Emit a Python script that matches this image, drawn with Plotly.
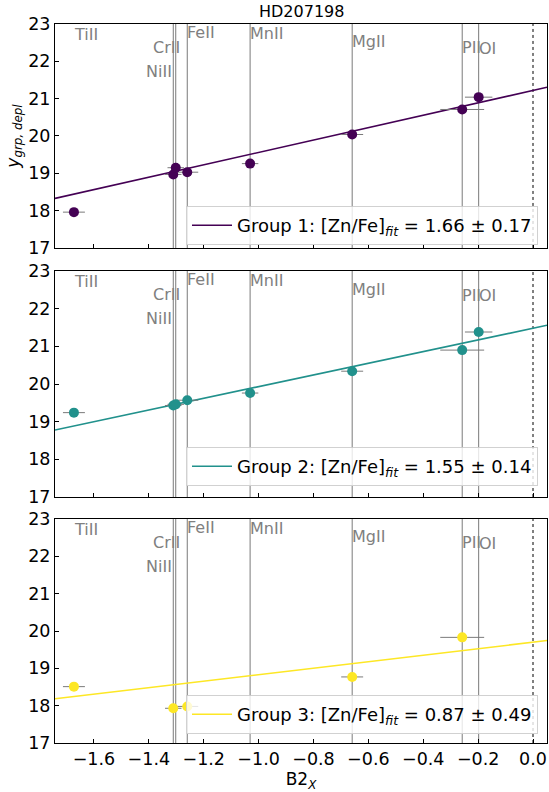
import plotly.graph_objects as go
from plotly.subplots import make_subplots

# ---- data ----
ions = ["TiII", "CrII", "NiII", "FeII", "MnII", "MgII", "PII", "OI"]
b2x = [-1.673, -1.311, -1.302, -1.260, -1.031, -0.659, -0.258, -0.198]

group1_y = [17.96, 18.97, 19.15, 19.03, 19.26, 20.04, 20.71, 21.04]
group1_xerr = [0.04, 0.03, 0.03, 0.04, 0.03, 0.04, 0.08, 0.05]

group2_y = [19.24, 19.43, 19.46, 19.57, 19.76, 20.34, 20.90, 21.38]
group2_xerr = [0.04, 0.03, 0.03, 0.04, 0.03, 0.04, 0.08, 0.05]

group3_y = [18.51, 17.93, None, 17.98, None, 18.77, 19.83, None]
group3_xerr = [0.04, 0.03, None, 0.04, None, 0.04, 0.08, None]

group_names = ["Group 1", "Group 2", "Group 3"]
fit_slope = [1.66, 1.55, 0.87]
fit_slope_err = [0.17, 0.14, 0.49]
fit_intercept = [21.22, 21.48, 19.70]

star = "HD207198"
x_ticks = [-1.6, -1.4, -1.2, -1.0, -0.8, -0.6, -0.4, -0.2, 0.0]
y_ticks = [17, 18, 19, 20, 21, 22, 23]

# ---- style ----
colors = ["#440154", "#21918c", "#fde725"]
FONT = "DejaVu Sans"
GRAY = "#7a7a7a"
x_range = [-1.742, 0.051]
y_range = [17, 23]
# label placement (style): anchor, pixel x-shift, y level
label_style = {
    "TiII": ("left", -2, 22.72),
    "CrII": ("right", 9, 22.38),
    "NiII": ("right", -2, 21.74),
    "FeII": ("left", -2, 22.77),
    "MnII": ("left", -2, 22.74),
    "MgII": ("left", -2, 22.52),
    "PII": ("left", -2, 22.36),
    "OI": ("left", -2, 22.34),
}

fig = make_subplots(rows=3, cols=1, shared_xaxes=False)
domains = [[0.6885, 1.0], [0.3421, 0.6565], [0.0, 0.3115]]
legend_y = [0.6926, 0.3574, 0.0125]
legend_keys = ["legend", "legend2", "legend3"]

groups_y = [group1_y, group2_y, group3_y]
groups_err = [group1_xerr, group2_xerr, group3_xerr]

for i in range(3):
    row = i + 1
    # vertical ion lines
    for ion, xv in zip(ions, b2x):
        fig.add_vline(x=xv, line=dict(color=GRAY, width=1), layer="below", row=row, col=1)
        anc, xs, yl = label_style[ion]
        fig.add_annotation(x=xv, y=yl, text=ion, showarrow=False, xanchor=anc, yanchor="middle",
                           xshift=xs, font=dict(family=FONT, size=16, color="#808080"),
                           xref=f"x{'' if row == 1 else row}", yref=f"y{'' if row == 1 else row}")
    fig.add_vline(x=0.0, line=dict(color="black", width=1, dash="dot"), layer="below", row=row, col=1)

    # fit line
    fx = x_range
    fy = [fit_intercept[i] + fit_slope[i] * x for x in fx]
    fig.add_trace(go.Scatter(x=fx, y=fy, mode="lines", line=dict(color=colors[i], width=1.6),
                             name=f"{group_names[i]}: [Zn/Fe]<sub><i>fit</i></sub> = {fit_slope[i]:.2f} ± {fit_slope_err[i]:.2f}",
                             legend=legend_keys[i], showlegend=True), row=row, col=1)
    # points
    xs_pts = [x for x, y in zip(b2x, groups_y[i]) if y is not None]
    ys_pts = [y for y in groups_y[i] if y is not None]
    es_pts = [e for e, y in zip(groups_err[i], groups_y[i]) if y is not None]
    fig.add_trace(go.Scatter(x=xs_pts, y=ys_pts, mode="markers",
                             marker=dict(color=colors[i], size=10),
                             error_x=dict(type="data", array=es_pts, color=GRAY, thickness=1, width=0),
                             showlegend=False), row=row, col=1)

axis_common = dict(showline=True, linecolor="black", linewidth=1, mirror=True,
                   ticks="inside", ticklen=4, tickcolor="black", showgrid=False, zeroline=False,
                   tickfont=dict(family=FONT, size=17.5, color="black"))

for i in range(3):
    row = i + 1
    fig.update_xaxes(range=x_range, tickvals=x_ticks, tickformat=".1f",
                     showticklabels=(row == 3), row=row, col=1, **axis_common)
    fig.update_yaxes(range=y_range, tickvals=y_ticks, domain=domains[i], row=row, col=1, **axis_common)

fig.update_xaxes(title=dict(text="B2<sub><i>X</i></sub>", font=dict(family=FONT, size=17, color="black"), standoff=4),
                 row=3, col=1)
fig.update_yaxes(title=dict(text="<i>y<sub>grp, depl</sub></i>", font=dict(family=FONT, size=17, color="black"),
                            standoff=4), row=1, col=1)

leg_common = dict(xanchor="right", x=0.9817, yanchor="bottom", itemwidth=40,
                  bgcolor="rgba(255,255,255,0.8)", bordercolor="rgba(204,204,204,0.9)", borderwidth=1,
                  font=dict(family=FONT, size=18, color="black"))
fig.update_layout(
    legend=dict(y=legend_y[0], **leg_common),
    legend2=dict(y=legend_y[1], **leg_common),
    legend3=dict(y=legend_y[2], **leg_common),
)

fig.add_annotation(x=0.5, y=1.0, xref="paper", yref="paper", text=star, showarrow=False,
                   yanchor="bottom", yshift=1, font=dict(family=FONT, size=16, color="black"))

fig.update_layout(width=549, height=792, margin=dict(l=55, r=2, t=24, b=49),
                  plot_bgcolor="white", paper_bgcolor="white",
                  font=dict(family=FONT, size=16, color="black"))

fig.write_html("out.html")
